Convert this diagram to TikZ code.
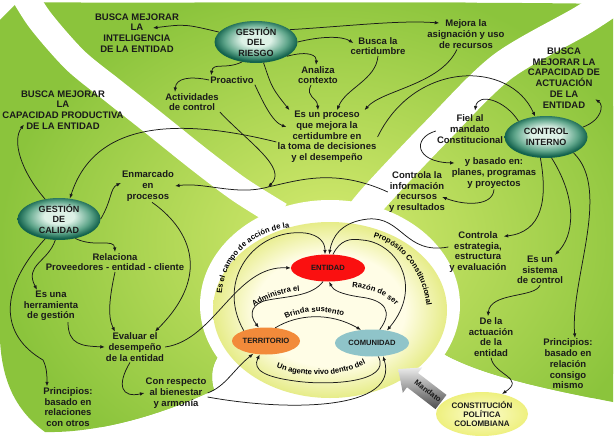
\documentclass[tikz,border=0pt]{standalone}
\usepackage{fontspec}
\setmainfont{Liberation Sans}
\usetikzlibrary{shapes.geometric,arrows.meta,decorations.text}
\definecolor{leaf}{HTML}{8BC43C}
\definecolor{leaflight}{HTML}{D6EB70}
\definecolor{pale}{HTML}{FFFDE6}
\definecolor{paleedge}{HTML}{E6EC88}
\definecolor{tealdark}{HTML}{13624D}
\definecolor{tealmid}{HTML}{5EA58A}
\definecolor{teallight}{HTML}{DDF1E6}
\definecolor{entred}{HTML}{FA1010}
\definecolor{terrorange}{HTML}{F28A3A}
\definecolor{comblue}{HTML}{8FC4C9}
\definecolor{constyellow}{HTML}{EEF07E}
\definecolor{constlight}{HTML}{FCFCCF}
\definecolor{ink}{HTML}{1A1A1A}
\definecolor{mandark}{HTML}{4D4D4D}
\definecolor{manlight}{HTML}{EBEBEB}
\newcommand{\txtfont}{\fontsize{9.5}{10.7}\selectfont\bfseries}
\newcommand{\blobfont}{\fontsize{9}{10.3}\selectfont\bfseries}
\newcommand{\arcfont}{\fontsize{7.6}{9}\selectfont\bfseries}
\pgfdeclareradialshading{tealglow}{\pgfpoint{0bp}{4bp}}{color(0bp)=(teallight); color(9bp)=(teallight); color(19bp)=(tealmid); color(25bp)=(tealdark); color(50bp)=(tealdark)}
\pgfdeclareradialshading{fieldglow}{\pgfpoint{0bp}{0bp}}{color(0bp)=(leaflight); color(25bp)=(leaf); color(50bp)=(leaf)}
\pgfdeclareradialshading{coreglow}{\pgfpoint{0bp}{0bp}}{color(0bp)=(pale); color(16bp)=(pale); color(25bp)=(paleedge); color(50bp)=(paleedge)}
\begin{document}
\begin{tikzpicture}[x=1pt,y=-1pt,
  txt/.style={font=\txtfont,text=ink,align=center,inner sep=1pt},
  blob/.style={ellipse,shade,shading=tealglow,inner sep=0pt,font=\blobfont,text=ink,align=center,minimum width=83pt,minimum height=42pt},
  core/.style={ellipse,inner sep=0pt,font=\arcfont,text=ink,minimum height=27pt},
  conn/.style={draw=ink,line width=0.75pt,-{Latex[length=4.5pt,width=3.6pt]}},
  lbl/.style={decorate,decoration={text along path,text align=center,raise=1.5pt,text={|\arcfont|#1}}}]
\useasboundingbox (0,0) rectangle (616,436);
\fill[white] (0,0) rectangle (616,436);
\begin{scope}
  \clip (0,20) -- (18,2) .. controls (200,4) and (420,1) .. (613,4) -- (613,402)
    .. controls (540,388) and (465,372) .. (430,345) -- (330,330) -- (240,340)
    .. controls (215,350) and (208,370) .. (214,390)
    .. controls (150,420) and (90,433) .. (45,432) .. controls (15,410) and (2,380) .. (0,340) -- cycle;
  \fill[leaf] (0,0) rectangle (616,436);
  \shade[shading=fieldglow] (330,240) ellipse [x radius=330, y radius=260];
\end{scope}
\draw[white,line width=26pt] plot[smooth] coordinates {(20,-12) (40,20) (75,60) (112,90) (150,120) (200,160) (240,190) (280,215)};
\draw[white,line width=30pt] plot[smooth] coordinates {(625,-8) (583,20) (502,67) (435,133) (372,200) (345,235)};
\fill[white] (330,305) ellipse [x radius=130, y radius=105];
\shade[shading=coreglow] (330,310) ellipse [x radius=117, y radius=88];

\node[blob] (riesgo) at (256,42) {GESTIÓN\\DEL\\RIESGO};
\node[blob] (control) at (546,137) {CONTROL\\INTERNO};
\node[blob] (calidad) at (59,219) {GESTIÓN\\DE\\CALIDAD};
\node[core,fill=entred,minimum width=74pt] (entidad) at (328,268) {ENTIDAD};
\node[core,fill=terrorange,minimum width=68pt] (terr) at (266,341) {TERRITORIO};
\node[core,fill=comblue,minimum width=74pt] (comu) at (372,343) {COMUNIDAD};
\node[ellipse,inner sep=0pt,shade,inner color=constlight,outer color=constyellow,minimum width=92pt,minimum height=44pt,align=center,text=ink,font=\fontsize{8}{9.2}\selectfont\bfseries] (const) at (482,414) {CONSTITUCIÓN\\POLÍTICA\\COLOMBIANA};

\node[txt] (intel) at (137,33) {BUSCA MEJORAR\\LA\\INTELIGENCIA\\DE LA ENTIDAD};
\node[txt] (proact) at (232,80) {Proactivo};
\node[txt] (activ) at (192,102) {Actividades\\de control};
\node[txt] (analiza) at (318,75) {Analiza\\contexto};
\node[txt] (busca) at (378,46) {Busca la\\certidumbre};
\node[txt] (mejora) at (466,34) {Mejora la\\asignación y uso\\de recursos};
\node[txt] (proceso) at (327,137) {Es un proceso\\que mejora la\\certidumbre en\\la toma de decisiones\\y el desempeño};
\node[txt] (capact) at (564,78) {BUSCA\\MEJORAR LA\\CAPACIDAD DE\\ACTUACIÓN\\DE LA\\ENTIDAD};
\node[txt] (fiel) at (470,129) {Fiel al\\mandato\\Constitucional};
\node[txt] (basado) at (494,173) {y basado en:\\planes, programas\\y proyectos};
\node[txt] (cinfo) at (417,192) {Controla la\\información\\recursos\\y resultados};
\node[txt] (cestr) at (478,252) {Controla\\estrategia,\\estructura\\y evaluación};
\node[txt] (sistema) at (540,270) {Es un\\sistema\\de control};
\node[txt] (deact) at (491,337) {De la\\actuación\\de la\\entidad};
\node[txt] (princr) at (568,364) {Principios:\\basado en\\relación\\consigo\\mismo};
\node[txt] (capprod) at (63,110) {BUSCA MEJORAR\\LA\\CAPACIDAD PRODUCTIVA\\DE LA ENTIDAD};
\node[txt] (enmarc) at (148,186) {Enmarcado\\en\\procesos};
\node[txt] (relac) at (115,262) {Relaciona\\Proveedores - entidad - cliente};
\node[txt] (herr) at (51,306) {Es una\\herramienta\\de gestión};
\node[txt] (evaluar) at (135,347) {Evaluar el\\desempeño\\de la entidad};
\node[txt] (respecto) at (176,393) {Con respecto\\al bienestar\\y armonía};
\node[txt] (princc) at (68,407) {Principios:\\basado en\\relaciones\\con otros};
\coordinate (meet) at (268,187);

\draw[conn] (riesgo.165) .. controls (185,24) .. ([xshift=16pt,yshift=5pt]intel.center);
\draw[conn] (riesgo.235) .. controls (225,70) and (213,62) .. ([xshift=2pt]proact.north west);
\draw[conn] (proact.west) .. controls (190,76) and (176,78) .. ([xshift=-17pt]activ.north);
\draw[conn] (riesgo.290) .. controls (272,88) .. ([xshift=13pt]proceso.north west);
\draw[conn] (proact.south east) .. controls (262,100) and (272,122) .. ([xshift=10pt,yshift=10pt]proceso.west);
\draw[conn] (activ.south east) .. controls (248,142) and (288,168) .. (meet);
\draw[conn] (cinfo.west) .. controls (335,168) and (300,180) .. (meet) .. controls (236,196) and (205,182) .. (enmarc.east);
\draw[conn] ([yshift=-5pt]proceso.west) .. controls (180,118) and (95,120) .. (calidad.62);
\draw[conn] (riesgo.335) .. controls (310,50) and (317,56) .. ([xshift=-2pt]analiza.north);
\draw[conn] ([xshift=-7pt]analiza.south) .. controls (305,98) and (317,96) .. ([xshift=-9pt]proceso.north);
\draw[conn] (riesgo.east) .. controls (322,36) and (342,36) .. ([xshift=4pt,yshift=3pt]busca.west);
\draw[conn] (busca.south) .. controls (376,80) and (346,88) .. ([xshift=10pt]proceso.north);
\draw[conn] (riesgo.20) .. controls (350,26) and (400,20) .. ([xshift=13pt,yshift=11pt]mejora.west);
\draw[conn] ([xshift=-9pt]mejora.south) .. controls (440,85) and (382,90) .. ([xshift=-13pt]proceso.north east);
\draw[conn] (proceso.east) .. controls (415,60) and (510,60) .. (control.118);
\draw[conn] (control.15) .. controls (602,120) and (604,105) .. ([xshift=-6pt,yshift=10pt]capact.south east);
\draw[conn] (control.150) .. controls (505,100) and (478,92) .. ([xshift=5pt,yshift=3pt]fiel.north);
\draw[conn] ([yshift=-2pt]fiel.west) .. controls (412,138) and (415,162) .. ([xshift=4pt,yshift=10pt]basado.west);
\draw[conn] (basado.south) .. controls (493,206) and (466,206) .. ([xshift=-4pt,yshift=-5pt]cinfo.east);
\draw[conn] (control.255) .. controls (548,200) and (542,232) .. ([xshift=-4pt,yshift=-6pt]cestr.north east);
\draw[conn] ([yshift=5pt]cestr.west) .. controls (405,255) and (402,216) .. (368,219) .. controls (340,222) and (332,238) .. (entidad.85);
\draw[conn] (control.285) .. controls (578,200) and (574,236) .. ([xshift=15pt]sistema.north);
\draw[conn] (sistema.south) .. controls (535,298) and (490,292) .. ([xshift=-3pt]deact.north);
\draw[conn] (deact.south) .. controls (494,375) and (526,378) .. (const.45);
\draw[conn] (control.330) .. controls (612,190) and (570,280) .. ([xshift=7pt]princr.north);
\draw[conn] (calidad.125) .. controls (20,170) and (12,140) .. ([xshift=-39pt,yshift=6pt]capprod.south);
\draw[conn] (calidad.east) .. controls (112,200) and (110,188) .. ([yshift=3pt]enmarc.west);
\draw[conn] (calidad.310) .. controls (95,248) and (114,238) .. (relac.north);
\draw[conn] (calidad.260) .. controls (48,262) and (24,265) .. ([xshift=-14pt]herr.north);
\draw[conn] ([xshift=17pt]herr.south) .. controls (68,345) and (82,346) .. (evaluar.west);
\draw[conn] (relac.south) .. controls (110,295) and (107,316) .. ([xshift=-20pt]evaluar.north);
\draw[conn] ([xshift=4pt]enmarc.south) .. controls (186,226) and (215,272) .. ([xshift=20pt]evaluar.north);
\draw[conn] ([xshift=-5pt]evaluar.south) .. controls (116,386) and (122,398) .. (respecto.west);
\draw[conn] (calidad.235) .. controls (-2,290) and (0,335) .. (43,360) .. controls (47,368) and (47,376) .. ([xshift=-21pt]princc.north);
\draw[conn] (evaluar.east) .. controls (215,340) and (235,265) .. (entidad.west);
\draw[conn] (respecto.east) .. controls (226,386) and (233,370) .. (terr.225);
\draw[conn] ([yshift=-4pt]respecto.east) .. controls (290,412) and (400,410) .. (comu.310);
\draw[conn] (terr.155) .. controls (215,280) and (255,228) .. (305,233) .. controls (320,235) and (325,243) .. ([xshift=-3pt]entidad.north);
\draw[conn] (entidad.70) .. controls (340,240) and (350,238) .. (362,240) .. controls (395,242) and (425,285) .. (comu.40);
\draw[conn] (entidad.250) .. controls (312,296) and (290,296) .. (268,300) .. controls (252,303) and (248,314) .. (terr.118);
\draw[conn] (comu.60) .. controls (393,312) and (386,300) .. (360,297) .. controls (340,294) and (333,290) .. (entidad.275);
\draw[conn] (terr.55) .. controls (298,314) and (330,312) .. (comu.130);
\draw[conn] (comu.295) .. controls (392,382) and (330,386) .. (295,381) .. controls (265,377) and (252,370) .. (terr.245);

\path[lbl=Es el campo de acción de la] (226,318) .. controls (212,268) and (252,222) .. (314,229);
\path[lbl=Propósito Constitucional] (347,236) .. controls (396,232) and (432,276) .. (425,332);
\path[lbl=Administra el] (246,316) .. controls (262,298) and (290,292) .. (312,292);
\path[lbl=Razón de ser] (340,289) .. controls (365,287) and (390,296) .. (402,316);
\path[lbl=Brinda sustento] (278,326) .. controls (296,311) and (330,309) .. (352,322);
\path[lbl=Un agente vivo dentro del] (266,364) .. controls (298,382) and (345,380) .. (376,360);

\shade[shading angle=52,top color=manlight,bottom color=mandark] (446.5,394.9) -- (418,373) -- (422.2,367.4) -- (398.2,369.1) -- (402.8,392.8) -- (407,387.2) -- (435.5,409.1) -- cycle;
\node[rotate=-37.5,font=\arcfont,text=ink] (mandato) at (428,391) {Mandato};
\end{tikzpicture}
\end{document}
